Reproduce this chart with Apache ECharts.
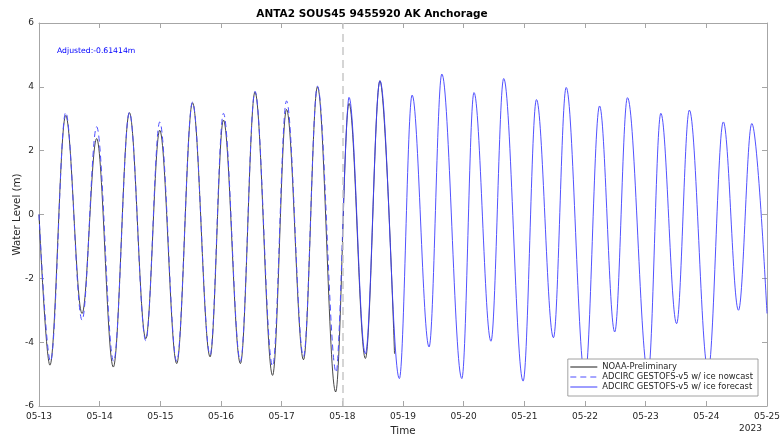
<!DOCTYPE html>
<html>
<head>
<meta charset="utf-8">
<title>ANTA2 SOUS45 9455920 AK Anchorage</title>
<script src="https://cdn.jsdelivr.net/npm/echarts@6/dist/echarts.min.js"></script>
<style>html,body{margin:0;padding:0;background:#fff;}</style>
</head>
<body>
<div id="main" style="width:780px;height:435px;"></div>
<script>
// x values are days after 2023-05-13 00:00, read at each high / low water
var dayLabels = ['05-13','05-14','05-15','05-16','05-17','05-18','05-19','05-20','05-21','05-22','05-23','05-24','05-25'];
var yTicks = [-6, -4, -2, 0, 2, 4, 6];

// NOAA-Preliminary (observed)
var obsDays = [0, 0.18, 0.44, 0.71, 0.95, 1.225, 1.49, 1.76, 1.99, 2.27, 2.53, 2.82, 3.04, 3.32, 3.56, 3.85, 4.08, 4.36, 4.59, 4.89, 5.11, 5.38, 5.62, 5.86];
var obsVals = [0, -4.72, 3.10, -3.10, 2.38, -4.78, 3.19, -3.89, 2.64, -4.67, 3.50, -4.46, 2.96, -4.67, 3.84, -5.04, 3.29, -4.55, 4.00, -5.56, 3.48, -4.51, 4.19, -4.36];

// ADCIRC nowcast
var nowDays = [0, 0.19, 0.44, 0.71, 0.95, 1.23, 1.49, 1.76, 1.99, 2.27, 2.53, 2.82, 3.04, 3.32, 3.56, 3.85, 4.08, 4.36, 4.59, 4.90, 5.0];
var nowVals = [0, -4.60, 3.20, -3.31, 2.75, -4.60, 3.20, -3.95, 2.90, -4.60, 3.52, -4.40, 3.17, -4.60, 3.86, -4.75, 3.56, -4.45, 4.02, -4.95, -0.8];

// ADCIRC forecast
var fcDays = [5.0, 5.11, 5.38, 5.62, 5.94, 6.15, 6.43, 6.64, 6.97, 7.17, 7.45, 7.66, 7.98, 8.20, 8.48, 8.69, 9.0, 9.24, 9.49, 9.70, 10.04, 10.25, 10.51, 10.72, 11.03, 11.28, 11.53, 11.75, 12.0];
var fcVals = [-0.8, 3.67, -4.36, 4.19, -5.14, 3.74, -4.15, 4.40, -5.14, 3.82, -3.97, 4.26, -5.22, 3.60, -3.86, 3.98, -5.10, 3.40, -3.68, 3.66, -5.00, 3.17, -3.42, 3.27, -4.90, 2.90, -3.00, 2.85, -3.10];

var forecastStart = 5;

function pairs(d, v) {
    return d.map(function (x, i) { return [x, v[i]]; });
}

var font = 'DejaVu Sans';
var frame = '#a6a6a6';

var myChart = echarts.init(document.getElementById('main'));

var tickAxisX = {
    type: 'value', min: 0, max: dayLabels.length - 1, interval: 1,
    axisLine: { show: true, onZero: false, lineStyle: { color: frame, width: 1 } },
    axisTick: { show: true, inside: true, length: 5, lineStyle: { color: frame } },
    splitLine: { show: false }
};
var tickAxisY = {
    type: 'value', min: yTicks[0], max: yTicks[yTicks.length - 1], interval: 2,
    axisLine: { show: true, onZero: false, lineStyle: { color: frame, width: 1 } },
    axisTick: { show: true, inside: true, length: 5, lineStyle: { color: frame } },
    splitLine: { show: false }
};

var option = {
    animation: false,
    textStyle: { fontFamily: font },
    grid: { left: 39, right: 13, top: 23, bottom: 29, containLabel: false, outerBoundsMode: 'none' },
    xAxis: [
        Object.assign({}, tickAxisX, {
            position: 'bottom',
            axisLabel: {
                fontSize: 9, color: '#262626', margin: 6, fontFamily: font,
                formatter: function (v) { return dayLabels[Math.round(v)]; }
            },
            name: 'Time', nameLocation: 'middle', nameGap: 18,
            nameTextStyle: { fontSize: 10.3, color: '#262626', fontFamily: font }
        }),
        Object.assign({}, tickAxisX, { position: 'top', axisLabel: { show: false } })
    ],
    yAxis: [
        Object.assign({}, tickAxisY, {
            position: 'left',
            axisLabel: { fontSize: 9, color: '#262626', margin: 5, fontFamily: font },
            name: 'Water Level (m)', nameLocation: 'middle', nameGap: 17, nameMoveOverlap: false,
            nameTextStyle: { fontSize: 10.3, color: '#262626', fontFamily: font }
        }),
        Object.assign({}, tickAxisY, { position: 'right', axisLabel: { show: false } })
    ],
    legend: {
        orient: 'vertical',
        right: 22, top: 359,
        itemWidth: 27, itemHeight: 8, itemGap: 2,
        padding: [4, 5, 5, 2],
        backgroundColor: '#fff',
        borderColor: '#8c8c8c', borderWidth: 0.8, borderRadius: 0,
        itemStyle: { opacity: 0 },
        lineStyle: { width: 1 },
        textStyle: { fontSize: 8.4, color: '#262626', fontFamily: font },
        data: ['NOAA-Preliminary', 'ADCIRC GESTOFS-v5 w/ ice nowcast', 'ADCIRC GESTOFS-v5 w/ ice forecast']
    },
    graphic: [
        { type: 'text', x: 372, y: 14, style: { text: 'ANTA2 SOUS45 9455920 AK Anchorage', font: 'bold 10.5px "DejaVu Sans"', fill: '#000', textAlign: 'center', textVerticalAlign: 'middle' } },
        { type: 'text', x: 57, y: 51, style: { text: 'Adjusted:-0.61414m', font: '7.7px "DejaVu Sans"', fill: '#0000ff', textVerticalAlign: 'middle' } },
        { type: 'text', x: 762, y: 429, style: { text: '2023', font: '9px "DejaVu Sans"', fill: '#262626', textAlign: 'right', textVerticalAlign: 'middle' } }
    ],
    series: [
        {
            name: 'NOAA-Preliminary', type: 'line',
            data: pairs(obsDays, obsVals),
            smooth: 0.36, smoothMonotone: 'x',
            symbol: 'none',
            lineStyle: { color: '#1a1a1a', width: 0.8 },
            itemStyle: { color: '#1a1a1a' }
        },
        {
            name: 'ADCIRC GESTOFS-v5 w/ ice nowcast', type: 'line',
            data: pairs(nowDays, nowVals),
            smooth: 0.36, smoothMonotone: 'x',
            symbol: 'none',
            lineStyle: { color: '#4d4dff', width: 1, type: [6, 4] },
            itemStyle: { color: '#4d4dff' }
        },
        {
            name: 'ADCIRC GESTOFS-v5 w/ ice forecast', type: 'line',
            data: pairs(fcDays, fcVals),
            smooth: 0.36, smoothMonotone: 'x',
            symbol: 'none',
            lineStyle: { color: '#3d3dff', width: 0.9 },
            itemStyle: { color: '#3d3dff' },
            markLine: {
                silent: true, symbol: 'none',
                label: { show: false },
                lineStyle: { color: '#c8c8c8', type: [8, 5], width: 1.5 },
                data: [{ xAxis: forecastStart }]
            }
        }
    ]
};

myChart.setOption(option);
</script>
</body>
</html>
